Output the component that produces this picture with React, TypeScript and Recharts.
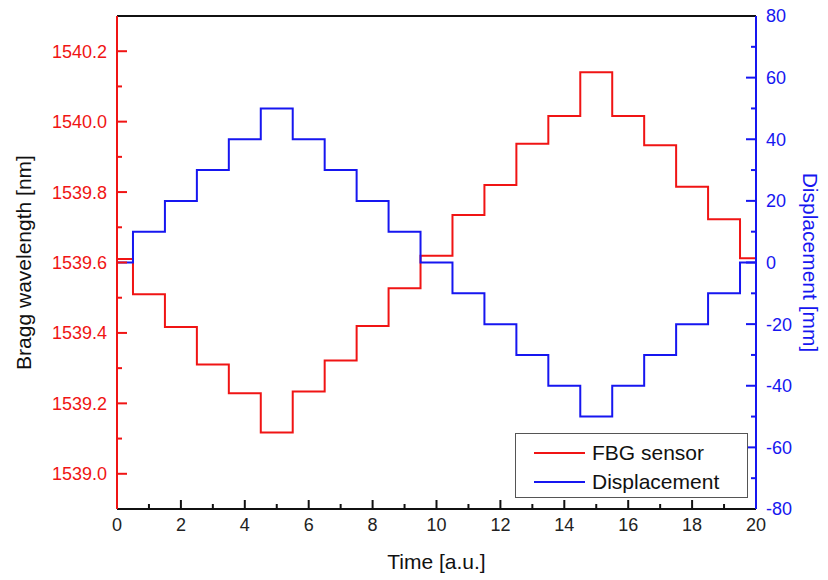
import { LineChart, Line, XAxis, YAxis, Legend, ReferenceLine } from 'recharts';

const timePoints = [0, 0.5, 1.5, 2.5, 3.5, 4.5, 5.5, 6.5, 7.5, 8.5, 9.5, 10.5, 11.5, 12.5, 13.5, 14.5, 15.5, 16.5, 17.5, 18.5, 19.5, 20];
const fbgWavelength = [1539.61, 1539.51, 1539.417, 1539.31, 1539.229, 1539.117, 1539.234, 1539.322, 1539.42, 1539.527, 1539.619, 1539.735, 1539.82, 1539.937, 1540.016, 1540.14, 1540.016, 1539.933, 1539.815, 1539.723, 1539.612, 1539.612];
const displacement = [0, 10, 20, 30, 40, 50, 40, 30, 20, 10, 0, -10, -20, -30, -40, -50, -40, -30, -20, -10, 0, 0];

// every tick; the custom tick draws a long mark + label on majors, a short mark on minors
const timeTicks = [0, 1, 2, 3, 4, 5, 6, 7, 8, 9, 10, 11, 12, 13, 14, 15, 16, 17, 18, 19, 20];
const wavelengthTicks = [1539.0, 1539.1, 1539.2, 1539.3, 1539.4, 1539.5, 1539.6, 1539.7, 1539.8, 1539.9, 1540.0, 1540.1, 1540.2];
const displacementTicks = [-80, -70, -60, -50, -40, -30, -20, -10, 0, 10, 20, 30, 40, 50, 60, 70, 80];

const data = timePoints.map((t, i) => ({ t, fbg: fbgWavelength[i], disp: displacement[i] }));

const RED = '#f01414';
const BLUE = '#1616f0';
const FONT = '"Liberation Sans", Arial, sans-serif';
const GAP = 10; // space between axis line and tick labels

function LeftTick({ x, y, payload }: any) {
  const v = payload.value;
  const major = Math.round(v * 10) % 2 === 0;
  const ax = x + GAP;
  return (
    <g>
      <line x1={ax} x2={ax + (major ? 10 : 5)} y1={y} y2={y} stroke={RED} strokeWidth={2} />
      {major && (
        <text x={x} y={y} dy="0.36em" textAnchor="end" fill={RED} fontSize={18} fontFamily={FONT}>
          {v.toFixed(1)}
        </text>
      )}
    </g>
  );
}

function RightTick({ x, y, payload }: any) {
  const v = payload.value;
  const major = v % 20 === 0;
  const ax = x - GAP;
  return (
    <g>
      {v > -80 && v < 80 && (
        <line x1={ax} x2={ax - (major ? 10 : 5)} y1={y} y2={y} stroke={BLUE} strokeWidth={2} />
      )}
      {major && (
        <text x={x} y={y} dy="0.36em" textAnchor="start" fill={BLUE} fontSize={18} fontFamily={FONT}>
          {v}
        </text>
      )}
    </g>
  );
}

function BottomTick({ x, y, payload }: any) {
  const v = payload.value;
  const major = v % 2 === 0;
  const ay = y - 9;
  return (
    <g>
      {v > 0 && v < 20 && (
        <line x1={x} x2={x} y1={ay} y2={ay - (major ? 9 : 5)} stroke="#111" strokeWidth={2} />
      )}
      {major && (
        <text x={x} y={y} dy="0.72em" textAnchor="middle" fill="#222" fontSize={18} fontFamily={FONT}>
          {v}
        </text>
      )}
    </g>
  );
}

function LegendBox() {
  const rows = [
    { name: 'FBG sensor', color: RED },
    { name: 'Displacement', color: BLUE },
  ];
  return (
    <div
      style={{
        width: 233,
        height: 65,
        boxSizing: 'border-box',
        border: '1.5px solid #555',
        background: '#fff',
        position: 'relative',
        fontFamily: FONT,
        fontSize: 21,
        color: '#111',
      }}
    >
      {rows.map((r, i) => (
        <div key={r.name} style={{ position: 'absolute', left: 0, top: 5 + i * 29, height: 28, display: 'flex', alignItems: 'center' }}>
          <div style={{ marginLeft: 18, width: 51, height: 2, background: r.color }} />
          <span style={{ marginLeft: 7, lineHeight: '28px' }}>{r.name}</span>
        </div>
      ))}
    </div>
  );
}

export default function App() {
  return (
    <LineChart width={820} height={572} data={data} margin={{ top: 8, right: 8, left: 9, bottom: 11 }}>
      <XAxis
        dataKey="t"
        type="number"
        domain={[0, 20]}
        ticks={timeTicks}
        interval={0}
        tickSize={0}
        tickMargin={9}
        tickLine={false}
        tick={<BottomTick />}
        axisLine={{ stroke: '#111', strokeWidth: 2 }}
        height={60}
        label={{ value: 'Time [a.u.]', position: 'insideBottom', offset: 0, fill: '#111', fontSize: 21, fontFamily: FONT }}
      />
      <YAxis
        yAxisId="left"
        type="number"
        domain={[1538.9, 1540.3]}
        ticks={wavelengthTicks}
        interval={0}
        width={100}
        tickSize={0}
        tickMargin={GAP}
        tickLine={false}
        tick={<LeftTick />}
        axisLine={{ stroke: RED, strokeWidth: 2 }}
        label={{ value: 'Bragg wavelength [nm]', angle: -90, position: 'insideLeft', offset: 7, fill: '#111', fontSize: 21, fontFamily: FONT, style: { textAnchor: 'middle' } }}
      />
      <YAxis
        yAxisId="right"
        orientation="right"
        type="number"
        domain={[-80, 80]}
        ticks={displacementTicks}
        interval={0}
        width={64}
        tickSize={0}
        tickMargin={GAP}
        tickLine={false}
        tick={<RightTick />}
        axisLine={{ stroke: BLUE, strokeWidth: 2 }}
        label={{ value: 'Displacement [mm]', angle: 90, position: 'insideRight', offset: 10, fill: BLUE, fontSize: 21, fontFamily: FONT, style: { textAnchor: 'middle' } }}
      />
      <ReferenceLine yAxisId="left" y={1540.3} stroke="#111" strokeWidth={2} />
      <Line yAxisId="left" type="stepAfter" dataKey="fbg" name="FBG sensor" stroke={RED} strokeWidth={2} dot={false} isAnimationActive={false} />
      <Line yAxisId="right" type="stepAfter" dataKey="disp" name="Displacement" stroke={BLUE} strokeWidth={2} dot={false} isAnimationActive={false} />
      <Legend
        layout="vertical"
        align="center"
        verticalAlign="middle"
        content={<LegendBox />}
        wrapperStyle={{ left: 507, top: 425, width: 233, height: 65 }}
      />
    </LineChart>
  );
}
